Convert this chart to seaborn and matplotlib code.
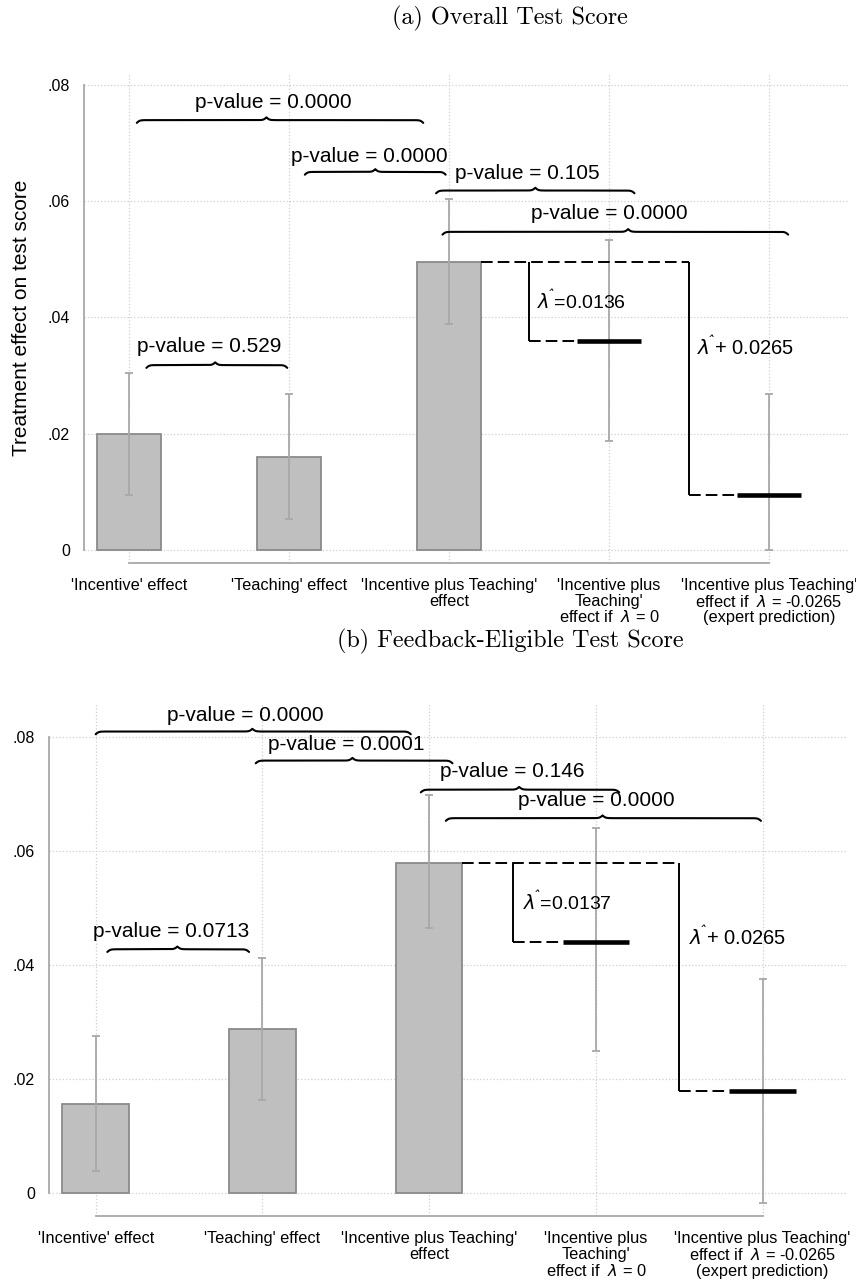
# Treatment effects with brace p-values, two panels
import numpy as np
import pandas as pd
import seaborn as sns
import matplotlib
matplotlib.use("Agg")
import matplotlib.pyplot as plt

sns.set_style("white")
plt.rcParams['font.family'] = ['Liberation Sans', 'DejaVu Sans']
plt.rcParams['mathtext.fontset'] = 'dejavusans'
plt.rcParams['text.color'] = 'black'

# ---- data ----
labels = ["'Incentive' effect",
          "'Teaching' effect",
          "'Incentive plus Teaching'\neffect",
          "'Incentive plus\nTeaching'\neffect if  $\\lambda$ = 0",
          "'Incentive plus Teaching'\neffect if  $\\lambda$ = -0.0265\n(expert prediction)"]
yticks = [0, 0.02, 0.04, 0.06, 0.08]
ytick_labels = ['0', '.02', '.04', '.06', '.08']

# panel (a) overall test score
bars_a = [0.0199, 0.0160, 0.0495]
pred_a = [0.0360, 0.0095]
ci_lo_a = [0.0094, 0.0053, 0.0389, 0.0187, 0.0000]
ci_hi_a = [0.0305, 0.0268, 0.0604, 0.0533, 0.0268]
lam_a = "0.0136"
pvals_a = ["0.529", "0.0000", "0.0000", "0.105", "0.0000"]

# panel (b) feedback-eligible test score
bars_b = [0.0156, 0.0288, 0.0579]
pred_b = [0.0441, 0.0180]
ci_lo_b = [0.0039, 0.0164, 0.0466, 0.0249, -0.0017]
ci_hi_b = [0.0275, 0.0413, 0.0699, 0.0641, 0.0375]
lam_b = "0.0137"
pvals_b = ["0.0713", "0.0000", "0.0001", "0.146", "0.0000"]

lam_shift = "0.0265"

# brace layout: x start, x end, cusp x, brace y, text x, text y
braces_a = [(0.11, 0.99, 0.54, 0.0318, 0.50, 0.0350),
            (0.05, 1.84, 0.86, 0.0739, 0.90, 0.0769),
            (1.10, 1.98, 1.54, 0.0650, 1.50, 0.0677),
            (1.92, 3.16, 2.54, 0.0618, 2.49, 0.0648),
            (1.96, 4.12, 3.12, 0.0547, 3.00, 0.0578)]
braces_b = [(0.07, 0.92, 0.49, 0.0428, 0.45, 0.0459),
            (0.00, 1.89, 0.94, 0.0810, 0.90, 0.0838),
            (0.96, 2.14, 1.54, 0.0759, 1.50, 0.0788),
            (1.95, 3.14, 2.54, 0.0708, 2.50, 0.0740),
            (2.10, 3.99, 3.04, 0.0658, 3.00, 0.0689)]
# label positions for the lambda texts: (x, y)
lam_pos_a = [(2.55, 0.0428), (3.55, 0.0349)]
lam_pos_b = [(2.56, 0.0511), (3.56, 0.0450)]

BAR_FILL = '#bfbfbf'
BAR_EDGE = '#8a8a8a'
CI_COL = '#a8a8a8'
AX_COL = '#a8a8a8'
GRID_COL = '#cfcfcf'
HAT = r'$\lambda^{\!\!ˆ}$'


def brace(ax, x0, x1, xc, y, h):
    # horizontal curly brace, ends curl down, cusp points up
    beta = 110.0
    xl = np.linspace(x0, xc, 150)
    yl = 1 / (1 + np.exp(-beta * (xl - x0))) + 1 / (1 + np.exp(-beta * (xl - xc)))
    xr = np.linspace(xc, x1, 150)
    yr = 1 / (1 + np.exp(-beta * (x1 - xr))) + 1 / (1 + np.exp(-beta * (xc - xr)))
    xs = np.concatenate([xl, xr])
    ys = y + h * (np.concatenate([yl, yr]) - 1)
    ax.plot(xs, ys, color='black', lw=1.5, solid_capstyle='round', zorder=5, clip_on=False)


def draw_panel(ax, bars, preds, lo, hi, lam, pvals, brace_layout, lam_pos, ybottom, ytop):
    pos = np.arange(len(labels))
    df = pd.DataFrame({'label': labels[:len(bars)], 'effect': bars})
    sns.barplot(data=df, x='label', y='effect', order=labels, width=0.4,
                color=BAR_FILL, saturation=1, edgecolor=BAR_EDGE, linewidth=1.3,
                errorbar=None, ax=ax, zorder=2)

    lo = np.array(lo)
    hi = np.array(hi)
    mid = (lo + hi) / 2
    ax.errorbar(pos, mid, yerr=[mid - lo, hi - mid], fmt='none', ecolor=CI_COL,
                elinewidth=1.3, capsize=3, capthick=1.3, zorder=3)

    # predicted effects
    ax.hlines(preds, pos[3:] - 0.2, pos[3:] + 0.2, color='black', lw=3.3, zorder=6)

    top = bars[2]
    dash = (0, (6, 2.6))
    ax.hlines(top, pos[2] + 0.2, 3.5, color='black', lw=1.4, linestyles=[dash], zorder=4)
    for xv, pv, p in [(2.5, preds[0], pos[3]), (3.5, preds[1], pos[4])]:
        ax.vlines(xv, pv, top, color='black', lw=1.4, zorder=4)
        ax.hlines(pv, xv, p - 0.2, color='black', lw=1.4, linestyles=[dash], zorder=4)

    ax.text(lam_pos[0][0], lam_pos[0][1], HAT + '=' + lam,
            fontsize=14, va='center', ha='left', zorder=7)
    ax.text(lam_pos[1][0], lam_pos[1][1], HAT + '+ ' + lam_shift,
            fontsize=14.5, va='center', ha='left', zorder=7)

    for (x0, x1, xc, yb, xt, yt), p in zip(brace_layout, pvals):
        brace(ax, x0, x1, xc, yb, 0.00095)
        ax.text(xt, yt, 'p-value = ' + p, fontsize=15, ha='center', va='center', zorder=7)

    ax.set_xlim(-0.28, 4.5)
    ax.set_ylim(ybottom, ytop)
    ax.set_yticks(yticks)
    ax.set_yticklabels(ytick_labels, fontsize=11.5)
    ax.set_xticks(pos)
    ax.set_xticklabels(labels, fontsize=11.8, linespacing=1.05)
    ax.set_xlabel('')
    ax.set_ylabel('')
    ax.grid(True, ls=':', color=GRID_COL, lw=0.9)
    ax.set_axisbelow(True)
    for s in ['top', 'right']:
        ax.spines[s].set_visible(False)
    for s in ['left', 'bottom']:
        ax.spines[s].set_color(AX_COL)
        ax.spines[s].set_linewidth(1.3)
    ax.spines['left'].set_bounds(0, 0.08)
    ax.spines['bottom'].set_bounds(0, 4)
    ax.tick_params(axis='both', colors=AX_COL, length=6, width=1.3, labelcolor='black')
    ax.tick_params(axis='x', pad=5)
    ax.tick_params(axis='y', pad=4)


fig = plt.figure(figsize=(8.56, 12.85), dpi=100)
ax1 = fig.add_axes([0.0981, 0.5619, 0.8937, 0.3813])
ax2 = fig.add_axes([0.0572, 0.0537, 0.9311, 0.3992])

draw_panel(ax1, bars_a, pred_a, ci_lo_a, ci_hi_a, lam_a, pvals_a, braces_a, lam_pos_a, -0.0022, 0.082)
draw_panel(ax2, bars_b, pred_b, ci_lo_b, ci_hi_b, lam_b, pvals_b, braces_b, lam_pos_b, -0.004, 0.086)

ax1.set_ylabel('Treatment effect on test score', fontsize=15, labelpad=12, color='black')

fig.text(0.596, 1 - 18 / 1285, '(a) Overall Test Score', family='cmr10', fontsize=17.4,
         ha='center', va='center')
fig.text(0.596, 1 - 641 / 1285, '(b) Feedback-Eligible Test Score', family='cmr10', fontsize=17.4,
         ha='center', va='center')

fig.savefig('out.png', dpi=100)
